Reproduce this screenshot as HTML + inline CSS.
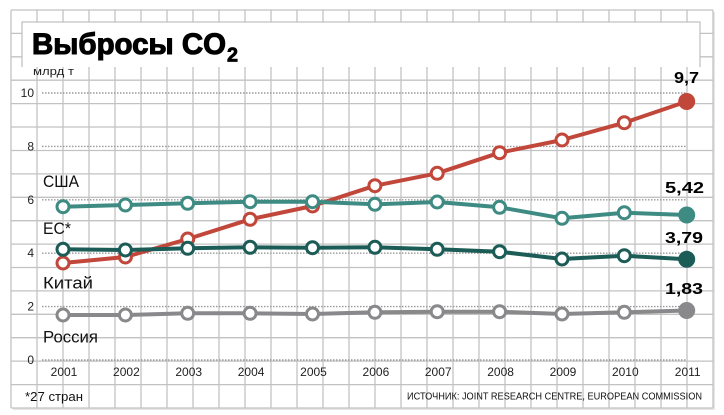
<!DOCTYPE html>
<html><head><meta charset="utf-8">
<style>
html,body{margin:0;padding:0;background:#fff;}
svg{display:block;}
text{font-family:"Liberation Sans","Noto Sans CJK SC",sans-serif;}
</style></head>
<body>
<svg width="724" height="415" viewBox="0 0 724 415" xmlns="http://www.w3.org/2000/svg">
<rect x="0" y="0" width="724" height="415" fill="#fff"/>
<rect x="13" y="12" width="702" height="398" fill="#e6e6e6"/>
<rect x="11" y="10" width="702" height="398" fill="#fff"/>
<g stroke="#c2c2c2" stroke-width="1.3" fill="none">
<line x1="11" y1="10" x2="11" y2="408"/><line x1="37" y1="10" x2="37" y2="408"/><line x1="63" y1="10" x2="63" y2="408"/><line x1="89" y1="10" x2="89" y2="408"/><line x1="115" y1="10" x2="115" y2="408"/><line x1="141" y1="10" x2="141" y2="408"/><line x1="167" y1="10" x2="167" y2="408"/><line x1="193" y1="10" x2="193" y2="408"/><line x1="219" y1="10" x2="219" y2="408"/><line x1="245" y1="10" x2="245" y2="408"/><line x1="271" y1="10" x2="271" y2="408"/><line x1="297" y1="10" x2="297" y2="408"/><line x1="323" y1="10" x2="323" y2="408"/><line x1="349" y1="10" x2="349" y2="408"/><line x1="375" y1="10" x2="375" y2="408"/><line x1="401" y1="10" x2="401" y2="408"/><line x1="427" y1="10" x2="427" y2="408"/><line x1="453" y1="10" x2="453" y2="408"/><line x1="479" y1="10" x2="479" y2="408"/><line x1="505" y1="10" x2="505" y2="408"/><line x1="531" y1="10" x2="531" y2="408"/><line x1="557" y1="10" x2="557" y2="408"/><line x1="583" y1="10" x2="583" y2="408"/><line x1="609" y1="10" x2="609" y2="408"/><line x1="635" y1="10" x2="635" y2="408"/><line x1="661" y1="10" x2="661" y2="408"/><line x1="687" y1="10" x2="687" y2="408"/><line x1="713" y1="10" x2="713" y2="408"/>
<line x1="11" y1="10" x2="713" y2="10"/><line x1="11" y1="33.4" x2="713" y2="33.4"/><line x1="11" y1="56.8" x2="713" y2="56.8"/><line x1="11" y1="80.2" x2="713" y2="80.2"/><line x1="11" y1="103.6" x2="713" y2="103.6"/><line x1="11" y1="127" x2="713" y2="127"/><line x1="11" y1="150.5" x2="713" y2="150.5"/><line x1="11" y1="173.9" x2="713" y2="173.9"/><line x1="11" y1="197.3" x2="713" y2="197.3"/><line x1="11" y1="220.7" x2="713" y2="220.7"/><line x1="11" y1="244.1" x2="713" y2="244.1"/><line x1="11" y1="267.5" x2="713" y2="267.5"/><line x1="11" y1="290.9" x2="713" y2="290.9"/><line x1="11" y1="314.3" x2="713" y2="314.3"/><line x1="11" y1="337.7" x2="713" y2="337.7"/><line x1="11" y1="361.1" x2="713" y2="361.1"/><line x1="11" y1="384.6" x2="713" y2="384.6"/><line x1="11" y1="408" x2="713" y2="408"/>
</g>
<rect x="22" y="22" width="678" height="45" fill="#fff"/>
<polyline points="22,67 22,22 700,22 700,67" fill="none" stroke="#c2c2c2" stroke-width="1.3"/>
<text x="32" y="54" font-size="30" font-weight="bold" fill="#000" stroke="#000" stroke-width="1.1" textLength="194" lengthAdjust="spacingAndGlyphs">Выбросы CO</text>
<text x="227" y="61.5" font-size="20" font-weight="bold" fill="#000" stroke="#000" stroke-width="0.8" textLength="11" lengthAdjust="spacingAndGlyphs">2</text>
<text x="33" y="75" font-size="11" fill="#222" textLength="41" lengthAdjust="spacingAndGlyphs">млрд т</text>
<g stroke="#9a9a9a" stroke-width="1.4" stroke-dasharray="1.5,1.5" fill="none">
<line x1="42" y1="360" x2="687" y2="360"/><line x1="42" y1="306.6" x2="687" y2="306.6"/><line x1="42" y1="253.2" x2="687" y2="253.2"/><line x1="42" y1="199.8" x2="687" y2="199.8"/><line x1="42" y1="146.4" x2="687" y2="146.4"/><line x1="42" y1="93" x2="687" y2="93"/>
</g>
<g font-size="12" fill="#222" text-anchor="end">
<text x="34" y="364">0</text><text x="34" y="310.6">2</text><text x="34" y="257.2">4</text><text x="34" y="203.8">6</text><text x="34" y="150.4">8</text><text x="34" y="97">10</text>
</g>
<g font-size="12" fill="#222" text-anchor="middle">
<text x="64" y="376">2001</text><text x="126.4" y="376">2002</text><text x="188.7" y="376">2003</text><text x="251.1" y="376">2004</text><text x="313.5" y="376">2005</text><text x="375.9" y="376">2006</text><text x="438.2" y="376">2007</text><text x="500.6" y="376">2008</text><text x="563" y="376">2009</text><text x="625.3" y="376">2010</text><text x="687.7" y="376">2011</text>
</g>
<g font-size="17" fill="#111">
<text x="43" y="187" textLength="36" lengthAdjust="spacingAndGlyphs">США</text>
<text x="43" y="234" textLength="28" lengthAdjust="spacingAndGlyphs">ЕС*</text>
<text x="43" y="288.5" textLength="50" lengthAdjust="spacingAndGlyphs">Китай</text>
<text x="43" y="342.5" textLength="55" lengthAdjust="spacingAndGlyphs">Россия</text>
</g>
<g stroke="#c2473b" fill="#fff">
<polyline fill="none" stroke-width="4" stroke-linejoin="round" points="63,263 125.4,257 187.7,239 250.1,219.3 312.5,206 374.9,185.7 437.2,173.3 499.6,152.7 562,140 624.3,122.7 686.7,101.5"/>
<g stroke-width="3"><circle cx="63" cy="263" r="6"/><circle cx="125.4" cy="257" r="6"/><circle cx="187.7" cy="239" r="6"/><circle cx="250.1" cy="219.3" r="6"/><circle cx="312.5" cy="206" r="6"/><circle cx="374.9" cy="185.7" r="6"/><circle cx="437.2" cy="173.3" r="6"/><circle cx="499.6" cy="152.7" r="6"/><circle cx="562" cy="140" r="6"/><circle cx="624.3" cy="122.7" r="6"/></g>
<circle cx="686.7" cy="101.5" r="8.5" fill="#c2473b" stroke="none"/>
</g>
<g stroke="#3e8b83" fill="#fff">
<polyline fill="none" stroke-width="4" stroke-linejoin="round" points="63,206.7 125.4,205 187.7,203.3 250.1,201.7 312.5,201.7 374.9,204.3 437.2,202 499.6,207.3 562,218.3 624.3,212.7 686.7,215"/>
<g stroke-width="3"><circle cx="63" cy="206.7" r="6"/><circle cx="125.4" cy="205" r="6"/><circle cx="187.7" cy="203.3" r="6"/><circle cx="250.1" cy="201.7" r="6"/><circle cx="312.5" cy="201.7" r="6"/><circle cx="374.9" cy="204.3" r="6"/><circle cx="437.2" cy="202" r="6"/><circle cx="499.6" cy="207.3" r="6"/><circle cx="562" cy="218.3" r="6"/><circle cx="624.3" cy="212.7" r="6"/></g>
<circle cx="686.7" cy="215" r="8.5" fill="#3e8b83" stroke="none"/>
</g>
<g stroke="#1c5c57" fill="#fff">
<polyline fill="none" stroke-width="4" stroke-linejoin="round" points="63,249.3 125.4,250 187.7,248.3 250.1,247.3 312.5,247.7 374.9,247.3 437.2,249.3 499.6,251.7 562,259 624.3,255.7 686.7,259.3"/>
<g stroke-width="3"><circle cx="63" cy="249.3" r="6"/><circle cx="125.4" cy="250" r="6"/><circle cx="187.7" cy="248.3" r="6"/><circle cx="250.1" cy="247.3" r="6"/><circle cx="312.5" cy="247.7" r="6"/><circle cx="374.9" cy="247.3" r="6"/><circle cx="437.2" cy="249.3" r="6"/><circle cx="499.6" cy="251.7" r="6"/><circle cx="562" cy="259" r="6"/><circle cx="624.3" cy="255.7" r="6"/></g>
<circle cx="686.7" cy="259.3" r="8.5" fill="#1c5c57" stroke="none"/>
</g>
<g stroke="#89898c" fill="#fff">
<polyline fill="none" stroke-width="4" stroke-linejoin="round" points="63,315 125.4,315 187.7,313.3 250.1,313.3 312.5,314 374.9,312.3 437.2,311.7 499.6,311.7 562,314 624.3,312.3 686.7,310.5"/>
<g stroke-width="3"><circle cx="63" cy="315" r="6"/><circle cx="125.4" cy="315" r="6"/><circle cx="187.7" cy="313.3" r="6"/><circle cx="250.1" cy="313.3" r="6"/><circle cx="312.5" cy="314" r="6"/><circle cx="374.9" cy="312.3" r="6"/><circle cx="437.2" cy="311.7" r="6"/><circle cx="499.6" cy="311.7" r="6"/><circle cx="562" cy="314" r="6"/><circle cx="624.3" cy="312.3" r="6"/></g>
<circle cx="686.7" cy="310.5" r="8.5" fill="#89898c" stroke="none"/>
</g>
<g font-size="16" font-weight="bold" fill="#000">
<text x="674" y="83" textLength="25" lengthAdjust="spacingAndGlyphs">9,7</text>
<text x="665" y="193" textLength="39" lengthAdjust="spacingAndGlyphs">5,42</text>
<text x="665" y="243" textLength="38" lengthAdjust="spacingAndGlyphs">3,79</text>
<text x="665" y="294" textLength="38" lengthAdjust="spacingAndGlyphs">1,83</text>
</g>
<text x="25" y="401" font-size="13" fill="#111" textLength="58" lengthAdjust="spacingAndGlyphs">*27 стран</text>
<text x="407" y="399.5" font-size="10" fill="#111" textLength="295" lengthAdjust="spacingAndGlyphs">ИСТОЧНИК: JOINT RESEARCH CENTRE, EUROPEAN COMMISSION</text>
</svg>
</body></html>
